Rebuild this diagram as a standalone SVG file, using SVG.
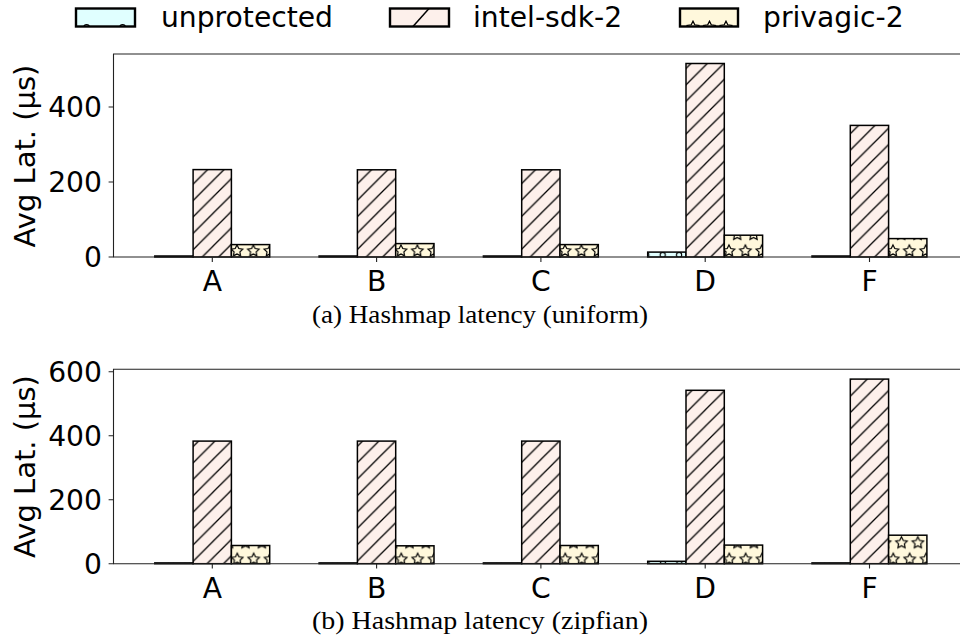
<svg xmlns="http://www.w3.org/2000/svg" xmlns:xlink="http://www.w3.org/1999/xlink" width="960" height="638" viewBox="0 0 960 638">
<style>
.t{font-family:"DejaVu Sans",sans-serif;font-size:28.2px;fill:#000}
.yl{font-family:"DejaVu Sans",sans-serif;font-size:29px;fill:#000}
.cap{font-family:"Liberation Serif","DejaVu Serif",serif;font-size:25px;fill:#000}
.bar{stroke:#000;stroke-width:1.5}
.sp{stroke:#222;stroke-width:1.1;fill:none}
.tk{stroke:#222;stroke-width:1.1}
.st{fill:none;stroke:#000;stroke-width:1.2}
.lg{stroke:#000;stroke-width:2.4}
</style>
<defs>
<path id="star" d="M0,-6 L1.763,-2.427 L5.706,-1.854 L2.853,0.927 L3.527,4.854 L0,3 L-3.527,4.854 L-2.853,0.927 L-5.706,-1.854 L-1.763,-2.427Z"/>
<pattern id="hI" patternUnits="userSpaceOnUse" width="16.4" height="16.4">
<rect width="16.4" height="16.4" fill="#fdf0eb"/>
<path d="M-4.1,4.1 L4.1,-4.1 M0,16.4 L16.4,0 M12.3,20.5 L20.5,12.3" stroke="#000" stroke-width="1.3"/>
</pattern>
<pattern id="hPt" patternUnits="userSpaceOnUse" x="7.4" y="21.4" width="16.4" height="32.8">
<rect width="16.4" height="32.8" fill="#fff8dc"/>
<use xlink:href="#star" class="st" x="0" y="0"/><use xlink:href="#star" class="st" x="16.4" y="0"/>
<use xlink:href="#star" class="st" x="0" y="32.8"/><use xlink:href="#star" class="st" x="16.4" y="32.8"/>
<use xlink:href="#star" class="st" x="8.2" y="16.4"/>
</pattern>
<pattern id="hPb" patternUnits="userSpaceOnUse" x="7.7" y="1.7" width="16.4" height="32.8">
<rect width="16.4" height="32.8" fill="#fff8dc"/>
<use xlink:href="#star" class="st" x="0" y="0"/><use xlink:href="#star" class="st" x="16.4" y="0"/>
<use xlink:href="#star" class="st" x="0" y="32.8"/><use xlink:href="#star" class="st" x="16.4" y="32.8"/>
<use xlink:href="#star" class="st" x="8.2" y="16.4"/>
</pattern>
<pattern id="hUt" patternUnits="userSpaceOnUse" x="6.7" y="25.4" width="16.4" height="32.8">
<rect width="16.4" height="32.8" fill="#e0ffff"/>
<g fill="none" stroke="#000" stroke-width="1.1">
<circle cx="0" cy="0" r="2.6"/><circle cx="16.4" cy="0" r="2.6"/><circle cx="0" cy="32.8" r="2.6"/><circle cx="16.4" cy="32.8" r="2.6"/><circle cx="8.2" cy="16.4" r="2.6"/>
</g>
</pattern>
<pattern id="hUb" patternUnits="userSpaceOnUse" x="7.0" y="4.0" width="16.4" height="32.8">
<rect width="16.4" height="32.8" fill="#e0ffff"/>
<g fill="none" stroke="#000" stroke-width="1.1">
<circle cx="0" cy="0" r="2.6"/><circle cx="16.4" cy="0" r="2.6"/><circle cx="0" cy="32.8" r="2.6"/><circle cx="16.4" cy="32.8" r="2.6"/><circle cx="8.2" cy="16.4" r="2.6"/>
</g>
</pattern>
<clipPath id="cU"><rect x="76" y="8.5" width="59" height="18"/></clipPath>
<clipPath id="cI"><rect x="390" y="8.5" width="59" height="18"/></clipPath>
<clipPath id="cP"><rect x="680" y="8.5" width="58" height="18"/></clipPath>
</defs>
<rect width="960" height="638" fill="#fff"/>

<g id="legend">
<g id="leg-unprotected">
<rect x="76" y="8.5" width="59" height="18" fill="#e0ffff"/>
<g clip-path="url(#cU)" fill="none" stroke="#000" stroke-width="1.3"><circle cx="86.6" cy="27.5" r="2.8"/><circle cx="122.6" cy="27.5" r="2.8"/></g>
<rect x="76" y="8.5" width="59" height="18" fill="none" class="lg"/>
<text class="t" x="161" y="26.5">unprotected</text>
</g>
<g id="leg-intel">
<rect x="390" y="8.5" width="59" height="18" fill="#fdf0eb"/>
<g clip-path="url(#cI)"><path d="M412.5,27 L429.5,8" stroke="#000" stroke-width="1.5"/></g>
<rect x="390" y="8.5" width="59" height="18" fill="none" class="lg"/>
<text class="t" x="473" y="26.5">intel-sdk-2</text>
</g>
<g id="leg-privagic">
<rect x="680" y="8.5" width="58" height="18" fill="#fff8dc"/>
<g clip-path="url(#cP)" fill="none" stroke="#000" stroke-width="1.3"><use xlink:href="#star" x="693" y="27.2"/><use xlink:href="#star" x="709.5" y="27.2"/><use xlink:href="#star" x="726" y="27.2"/></g>
<rect x="680" y="8.5" width="58" height="18" fill="none" class="lg"/>
<text class="t" x="763" y="26.5">privagic-2</text>
</g>
</g>

<g id="plot-a">
<g id="bars-a">
<rect class="bar" fill="url(#hUt)" x="154.8" y="256" width="38.3" height="1"/>
<rect class="bar" fill="url(#hI)" x="193.1" y="169.6" width="38.3" height="87.4"/>
<rect class="bar" fill="url(#hPt)" x="231.4" y="244.6" width="38.3" height="12.4"/>
<rect class="bar" fill="url(#hUt)" x="319.1" y="256" width="38.3" height="1"/>
<rect class="bar" fill="url(#hI)" x="357.4" y="169.8" width="38.3" height="87.2"/>
<rect class="bar" fill="url(#hPt)" x="395.7" y="243.6" width="38.3" height="13.4"/>
<rect class="bar" fill="url(#hUt)" x="483.4" y="256" width="38.3" height="1"/>
<rect class="bar" fill="url(#hI)" x="521.7" y="169.8" width="38.3" height="87.2"/>
<rect class="bar" fill="url(#hPt)" x="560.0" y="244.6" width="38.3" height="12.4"/>
<rect class="bar" fill="url(#hUt)" x="647.7" y="252.1" width="38.3" height="4.9"/>
<rect class="bar" fill="url(#hI)" x="686.0" y="63.5" width="38.3" height="193.5"/>
<rect class="bar" fill="url(#hPt)" x="724.3" y="235.2" width="38.3" height="21.8"/>
<rect class="bar" fill="url(#hUt)" x="812.0" y="256" width="38.3" height="1"/>
<rect class="bar" fill="url(#hI)" x="850.3" y="125.4" width="38.3" height="131.6"/>
<rect class="bar" fill="url(#hPt)" x="888.6" y="238.6" width="38.3" height="18.4"/>
</g>
<g id="axes-a">
<path class="sp" d="M960,54 L113.5,54 L113.5,257 L960,257"/>
<path class="tk" d="M108.6,257 H113.5 M108.6,182 H113.5 M108.6,107 H113.5 M212.3,257 V261.9 M376.6,257 V261.9 M540.9,257 V261.9 M705.2,257 V261.9 M869.5,257 V261.9"/>
<g class="t" text-anchor="end"><text x="102" y="267.3">0</text><text x="102" y="192.3">200</text><text x="102" y="117.3">400</text></g>
<g class="t" text-anchor="middle"><text x="212.3" y="290.5">A</text><text x="376.6" y="290.5">B</text><text x="540.9" y="290.5">C</text><text x="705.2" y="290.5">D</text><text x="869.5" y="290.5">F</text></g>
<text class="yl" text-anchor="middle" transform="translate(35,156) rotate(-90)">Avg Lat. (µs)</text>
</g>
<text class="cap" x="480" y="323" text-anchor="middle" textLength="336" lengthAdjust="spacingAndGlyphs">(a) Hashmap latency (uniform)</text>
</g>

<g id="plot-b">
<g id="bars-b">
<rect class="bar" fill="url(#hUb)" x="154.8" y="562.9" width="38.3" height="0.8"/>
<rect class="bar" fill="url(#hI)" x="193.1" y="441.1" width="38.3" height="122.6"/>
<rect class="bar" fill="url(#hPb)" x="231.4" y="545.5" width="38.3" height="18.2"/>
<rect class="bar" fill="url(#hUb)" x="319.1" y="562.9" width="38.3" height="0.8"/>
<rect class="bar" fill="url(#hI)" x="357.4" y="441.1" width="38.3" height="122.6"/>
<rect class="bar" fill="url(#hPb)" x="395.7" y="545.8" width="38.3" height="17.9"/>
<rect class="bar" fill="url(#hUb)" x="483.4" y="562.9" width="38.3" height="0.8"/>
<rect class="bar" fill="url(#hI)" x="521.7" y="441.1" width="38.3" height="122.6"/>
<rect class="bar" fill="url(#hPb)" x="560.0" y="545.5" width="38.3" height="18.2"/>
<rect class="bar" fill="url(#hUb)" x="647.7" y="561.3" width="38.3" height="2.4"/>
<rect class="bar" fill="url(#hI)" x="686.0" y="390.3" width="38.3" height="173.4"/>
<rect class="bar" fill="url(#hPb)" x="724.3" y="545.1" width="38.3" height="18.6"/>
<rect class="bar" fill="url(#hUb)" x="812.0" y="562.9" width="38.3" height="0.8"/>
<rect class="bar" fill="url(#hI)" x="850.3" y="379.1" width="38.3" height="184.6"/>
<rect class="bar" fill="url(#hPb)" x="888.6" y="535.2" width="38.3" height="28.5"/>
</g>
<g id="axes-b">
<path class="sp" d="M960,369.3 L113.5,369.3 L113.5,563.7 L960,563.7"/>
<path class="tk" d="M108.6,563.7 H113.5 M108.6,499.7 H113.5 M108.6,435.7 H113.5 M108.6,371.7 H113.5 M212.3,563.7 V568.6 M376.6,563.7 V568.6 M540.9,563.7 V568.6 M705.2,563.7 V568.6 M869.5,563.7 V568.6"/>
<g class="t" text-anchor="end"><text x="102" y="574">0</text><text x="102" y="510">200</text><text x="102" y="446">400</text><text x="102" y="382">600</text></g>
<g class="t" text-anchor="middle"><text x="212.3" y="597.5">A</text><text x="376.6" y="597.5">B</text><text x="540.9" y="597.5">C</text><text x="705.2" y="597.5">D</text><text x="869.5" y="597.5">F</text></g>
<text class="yl" text-anchor="middle" transform="translate(35,466.5) rotate(-90)">Avg Lat. (µs)</text>
</g>
<text class="cap" x="480" y="629" text-anchor="middle" textLength="336" lengthAdjust="spacingAndGlyphs">(b) Hashmap latency (zipfian)</text>
</g>
</svg>
